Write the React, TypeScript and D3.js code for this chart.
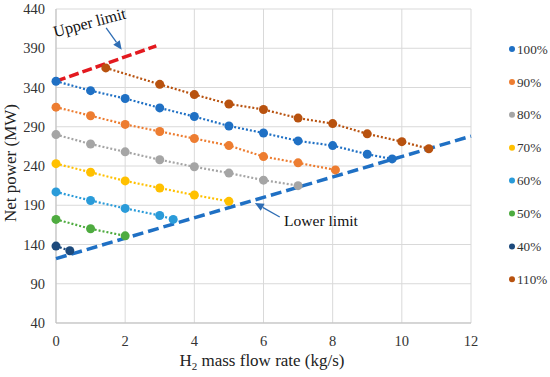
import React from "react";
import * as d3 from "d3";

// series: name, colour, x values, y values
const seriesNames = ["100%", "90%", "80%", "70%", "60%", "50%", "40%", "110%"];
const seriesColors = ["#1f70c4", "#ed7d31", "#a5a5a5", "#ffc000", "#2a9bd9", "#4eab3f", "#1d4a7c", "#b8520f"];
const xs100 = [0, 1, 2, 3, 4, 5, 6, 7, 8, 9, 9.72];
const ys100 = [348, 336, 326, 314, 303, 291, 282, 272, 266, 255, 249];
const xs90 = [0, 1, 2, 3, 4, 5, 6, 7, 8.08];
const ys90 = [315, 304, 293, 284, 275, 266, 252, 244, 235];
const xs80 = [0, 1, 2, 3, 4, 5, 6, 7];
const ys80 = [280, 268, 258, 248, 239, 231, 222, 215];
const xs70 = [0, 1, 2, 3, 4, 5];
const ys70 = [243, 232, 221, 212, 203, 195];
const xs60 = [0, 1, 2, 3, 3.39];
const ys60 = [207, 196, 186, 177, 172];
const xs50 = [0, 1, 2];
const ys50 = [172, 160, 151];
const xs40 = [0, 0.4];
const ys40 = [138, 132];
const xs110 = [1.44, 3, 4, 5, 6, 7, 8, 9, 10, 10.78];
const ys110 = [365, 344, 331, 319, 312, 301, 294, 281, 271, 262];
const seriesX = [xs100, xs90, xs80, xs70, xs60, xs50, xs40, xs110];
const seriesY = [ys100, ys90, ys80, ys70, ys60, ys50, ys40, ys110];

// limit lines
const upperX = [0, 2.9];
const upperY = [348, 393];
const lowerX = [0, 12];
const lowerY = [122, 278];

const xTicks = [0, 2, 4, 6, 8, 10, 12];
const yTicks = [40, 90, 140, 190, 240, 290, 340, 390, 440];

const W = 550, H = 377;
const font = "'Liberation Serif', 'Times New Roman', serif";

export default function App() {
  const x = d3.scaleLinear().domain([0, 12]).range([56, 471]);
  const y = d3.scaleLinear().domain([40, 440]).range([323, 9]);
  const line = (xv: number[], yv: number[]) =>
    d3.line<number>().x((_, i) => x(xv[i])).y((_, i) => y(yv[i]))(xv) as string;

  const arrow = (x1: number, y1: number, x2: number, y2: number, color: string) => {
    const px1 = x(x1), py1 = y(y1), px2 = x(x2), py2 = y(y2);
    const a = Math.atan2(py2 - py1, px2 - px1);
    const len = 9, wid = 4;
    const bx = px2 - len * Math.cos(a), by = py2 - len * Math.sin(a);
    const p = [
      [px2, py2],
      [bx + wid * Math.sin(a), by - wid * Math.cos(a)],
      [bx - wid * Math.sin(a), by + wid * Math.cos(a)],
    ];
    return (
      <g>
        <line x1={px1} y1={py1} x2={bx} y2={by} stroke={color} strokeWidth={1.3} />
        <polygon points={p.map(q => q.join(",")).join(" ")} fill={color} />
      </g>
    );
  };

  return (
    <svg width={W} height={H} style={{ position: "absolute", left: 0, top: 0, background: "#fff" }}>
      {/* grid */}
      {yTicks.map(t => (
        <line key={"gy" + t} x1={x(0)} x2={x(12)} y1={y(t)} y2={y(t)} stroke="#d9d9d9" strokeWidth={1} />
      ))}
      {xTicks.map(t => (
        <line key={"gx" + t} x1={x(t)} x2={x(t)} y1={y(40)} y2={y(440)} stroke="#d9d9d9" strokeWidth={1} />
      ))}
      <line x1={x(0)} x2={x(0)} y1={y(40)} y2={y(440)} stroke="#bfbfbf" strokeWidth={1} />
      <line x1={x(0)} x2={x(12)} y1={y(40)} y2={y(40)} stroke="#bfbfbf" strokeWidth={1} />

      {/* tick labels */}
      {yTicks.map(t => (
        <text key={"ty" + t} x={45} y={y(t)} dy="0.35em" textAnchor="end" fontFamily={font} fontSize={14.5} fill="#333">
          {t}
        </text>
      ))}
      {xTicks.map(t => (
        <text key={"tx" + t} x={x(t)} y={341} dy="0.35em" textAnchor="middle" fontFamily={font} fontSize={14.5} fill="#333">
          {t}
        </text>
      ))}

      {/* axis titles */}
      <text transform={`translate(16,163) rotate(-90)`} textAnchor="middle"
        fontFamily={font} fontSize={17} fill="#222">Net power (MW)</text>
      <text x={262} y={366} textAnchor="middle" fontFamily={font} fontSize={17} fill="#222">
        H<tspan fontSize={11} dy={4}>2</tspan><tspan dy={-4}> mass flow rate (kg/s)</tspan>
      </text>

      {/* limit lines */}
      <path d={line(lowerX, lowerY)} fill="none" stroke="#1f70c4" strokeWidth={3.5} strokeDasharray="11 5" />
      <path d={line(upperX, upperY)} fill="none" stroke="#e3191f" strokeWidth={3.5} strokeDasharray="10 4" />

      {/* series */}
      {seriesNames.map((n, i) => (
        <path key={"l" + n} d={line(seriesX[i], seriesY[i])} fill="none" stroke={seriesColors[i]}
          strokeWidth={2.2} strokeDasharray="2 2" />
      ))}
      {seriesNames.map((n, i) => (
        <g key={"m" + n}>
          {seriesX[i].map((v, j) => (
            <circle key={j} cx={x(v)} cy={y(seriesY[i][j])} r={4.5} fill={seriesColors[i]} />
          ))}
        </g>
      ))}

      {/* annotations */}
      <text transform={`translate(${x(0) - 1},${y(404)}) rotate(-14.8)`} fontFamily={font} fontSize={16} fill="#111">
        Upper limit
      </text>
      {arrow(1.45, 416, 1.9, 388, "#2e6db4")}
      <text x={x(6.59)} y={y(163.5)} fontFamily={font} fontSize={15.6} fill="#111">Lower limit</text>
      {arrow(6.47, 175, 5.75, 193, "#2e6db4")}

      {/* legend */}
      {seriesNames.map((n, i) => (
        <g key={"lg" + n} transform={`translate(512,${49 + i * 32.9})`}>
          <circle r={3} fill={seriesColors[i]} />
          <text x={5} dy="0.35em" fontFamily={font} fontSize={13.2} fill="#333">{n}</text>
        </g>
      ))}
    </svg>
  );
}
